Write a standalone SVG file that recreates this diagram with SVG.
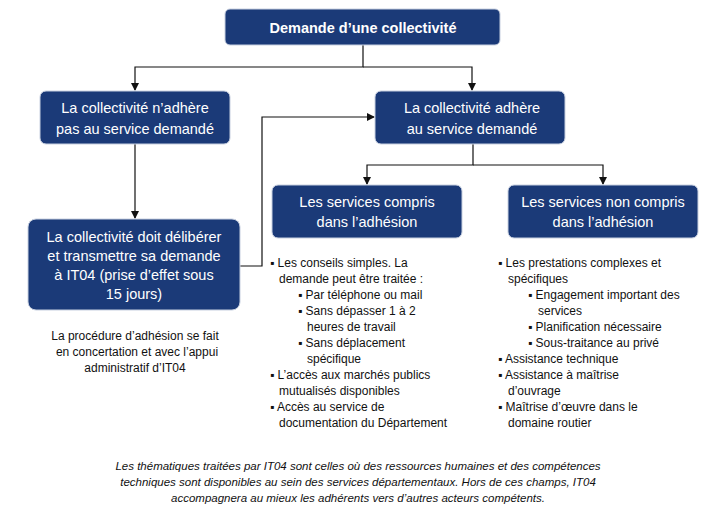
<svg xmlns="http://www.w3.org/2000/svg" width="720" height="520" viewBox="0 0 720 520">
<style>
.box{fill:#1b3a78;stroke:#c8d0e0;stroke-width:1}
.bt{font-family:"Liberation Sans",Arial,sans-serif;font-size:14.5px;fill:#fff;text-anchor:middle}
.t{font-family:"Liberation Sans",Arial,sans-serif;font-size:12px;fill:#111}
.c{stroke:#111;stroke-width:1.2;fill:none}
.f{font-family:"Liberation Sans",Arial,sans-serif;font-size:11.5px;fill:#111;font-style:italic;text-anchor:middle}
</style>
<defs><marker id="a" markerWidth="8" markerHeight="8" refX="7" refY="4" orient="auto" markerUnits="userSpaceOnUse"><path d="M0,0L8,4L0,8z" fill="#111"/></marker></defs>
<rect width="720" height="520" fill="#fff"/>
<g id="connectors">
<path class="c" d="M363,44V67H135V90" marker-end="url(#a)"/>
<path class="c" d="M363,67H472V90" marker-end="url(#a)"/>
<path class="c" d="M135,144V218" marker-end="url(#a)"/>
<path class="c" d="M240,266H262V117H374" marker-end="url(#a)"/>
<path class="c" d="M473,144V165H367V184" marker-end="url(#a)"/>
<path class="c" d="M473,165H603V184" marker-end="url(#a)"/>
</g>
<g id="top"><rect class="box" x="225" y="9" width="275" height="36" rx="5"/><text class="bt" x="363" y="33" font-weight="bold" font-size="17">Demande d’une collectivité</text></g>
<g id="nonadhere"><rect class="box" x="40" y="91" width="190" height="53" rx="6"/><text class="bt" x="135" y="113">La collectivité n’adhère</text><text class="bt" x="135" y="134">pas au service demandé</text></g>
<g id="adhere"><rect class="box" x="375" y="91" width="190" height="53" rx="6"/><text class="bt" x="472" y="113">La collectivité adhère</text><text class="bt" x="472" y="134">au service demandé</text></g>
<g id="deliberer"><rect class="box" x="28" y="219" width="212" height="91" rx="8"/><text class="bt" x="134" y="242">La collectivité doit délibérer</text><text class="bt" x="134" y="261">et transmettre sa demande</text><text class="bt" x="134" y="280">à IT04 (prise d’effet sous</text><text class="bt" x="134" y="299">15 jours)</text></g>
<g id="compris"><rect class="box" x="272" y="185" width="190" height="53" rx="6"/><text class="bt" x="367" y="207">Les services compris</text><text class="bt" x="367" y="227">dans l’adhésion</text></g>
<g id="noncompris"><rect class="box" x="508" y="185" width="190" height="53" rx="6"/><text class="bt" x="603" y="207">Les services non compris</text><text class="bt" x="603" y="227">dans l’adhésion</text></g>
<g id="note" class="t" text-anchor="middle"><text x="135" y="340">La procédure  d’adhésion se fait</text><text x="137" y="356">en concertation et avec l’appui</text><text x="135" y="372">administratif d’IT04</text></g>
<g id="list1" class="t">
<text x="270" y="267">▪ Les conseils simples. La</text>
<text x="279" y="283">demande  peut être traitée :</text>
<text x="298" y="299">▪ Par téléphone  ou mail</text>
<text x="298" y="315">▪ Sans dépasser 1 à 2</text>
<text x="307" y="331">heures de travail</text>
<text x="298" y="347">▪ Sans déplacement</text>
<text x="307" y="363">spécifique</text>
<text x="270" y="379">▪ L’accès aux marchés publics</text>
<text x="279" y="395">mutualisés disponibles</text>
<text x="270" y="411">▪ Accès au service  de</text>
<text x="279" y="427">documentation du Département</text>
</g>
<g id="list2" class="t">
<text x="498" y="267">▪ Les prestations complexes et</text>
<text x="508" y="283">spécifiques</text>
<text x="528" y="299">▪ Engagement  important des</text>
<text x="538" y="315">services</text>
<text x="528" y="331">▪ Planification nécessaire</text>
<text x="528" y="347">▪ Sous-traitance au privé</text>
<text x="498" y="363">▪ Assistance technique</text>
<text x="498" y="379">▪ Assistance à maîtrise</text>
<text x="508" y="395">d’ouvrage</text>
<text x="498" y="411">▪ Maîtrise d’œuvre  dans le</text>
<text x="508" y="427">domaine routier</text>
</g>
<g id="footer"><text class="f" x="358" y="470">Les thématiques traitées par IT04 sont celles où des ressources humaines et des compétences</text><text class="f" x="358" y="486">techniques sont disponibles au sein des services départementaux.  Hors de ces champs, IT04</text><text class="f" x="358" y="502">accompagnera au mieux les adhérents vers d’autres acteurs compétents.</text></g>
</svg>
